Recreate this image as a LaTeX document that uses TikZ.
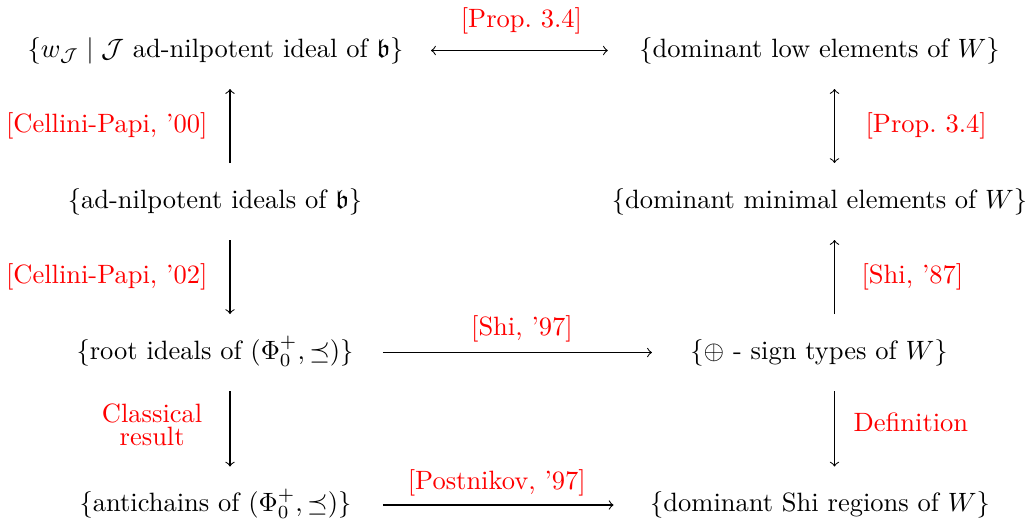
\documentclass[tikz,border=0pt]{standalone}
\usepackage{amsmath}
\usepackage{amssymb}
\usepackage{tikz}
\usetikzlibrary{positioning, calc}

\begin{document}
\begin{tikzpicture}[x=0.3774pt, y=-0.3774pt,
    set/.style={text height=7.5pt, text depth=2.5pt},
    lab/.style={red},
    link/.style={->, shorten <=6pt, shorten >=6pt}]
    \useasboundingbox (0,0) rectangle (1027,519);

    % Columns of the vertical arrows
    \coordinate (lcol) at (230,0);
    \coordinate (rcol) at (834.5,0);

    % Left column
    \node[set] (wJ)    at (215.5,50.5) {$\{w_{\mathcal{J}}\mid\mathcal{J}$ ad-nilpotent ideal of $\mathfrak{b}\}$};
    \node[set] (adnil) at (215,201.5)  {$\{$ad-nilpotent ideals of $\mathfrak{b}\}$};
    \node[set] (root)  at (215,352.5)  {$\{$root ideals of $(\Phi_0^+,\preceq)\}$};
    \node[set] (anti)  at (215.5,505)  {$\{$antichains of $(\Phi_0^+,\preceq)\}$};

    % Right column
    \node[set] (low)     at (819.5,50.5)  {$\{$dominant low elements of $W\}$};
    \node[set] (minimal) at (819.5,201.5) {$\{$dominant minimal elements of $W\}$};
    \node[set] (sign)    at (819,352.5)   {$\{\oplus$ - sign types of $W\}$};
    \node[set] (shi)     at (820,505)     {$\{$dominant Shi regions of $W\}$};

    % Horizontal arrows
    \draw[<->, shorten <=6.9pt, shorten >=8.4pt] (wJ) -- (low)
        node[midway, above=2.6pt, lab] {[Prop.\ 3.4]};
    \draw[->, shorten <=7.6pt, shorten >=11pt] (root) -- (sign)
        node[midway, above=0.4pt, lab] {[Shi, '97]};
    \draw[->, shorten <=8.4pt, shorten >=10.3pt] (anti) -- (shi)
        node[midway, above=0pt, xshift=-1.5pt, lab] {[Postnikov, '97]};

    % Left vertical arrows
    \draw[link] (adnil.north -| lcol) -- (wJ.south -| lcol)
        node[midway, left=5pt, lab] {[Cellini-Papi, '00]};
    \draw[link] (adnil.south -| lcol) -- (root.north -| lcol)
        node[midway, left=5pt, lab] {[Cellini-Papi, '02]};
    \draw[link] (root.south -| lcol) -- (anti.north -| lcol)
        node[midway, left=6.9pt, yshift=1.5pt, lab, align=center] {Classical\\[-3.4pt]result};

    % Right vertical arrows
    \draw[link, <->] (low.south -| rcol) -- (minimal.north -| rcol)
        node[midway, right=8.2pt, lab] {[Prop.\ 3.4]};
    \draw[link] (sign.north -| rcol) -- (minimal.south -| rcol)
        node[midway, right=6.7pt, lab] {[Shi, '87]};
    \draw[link] (sign.south -| rcol) -- (shi.north -| rcol)
        node[midway, right=3.7pt, yshift=2.3pt, lab] {Definition};
\end{tikzpicture}
\end{document}
